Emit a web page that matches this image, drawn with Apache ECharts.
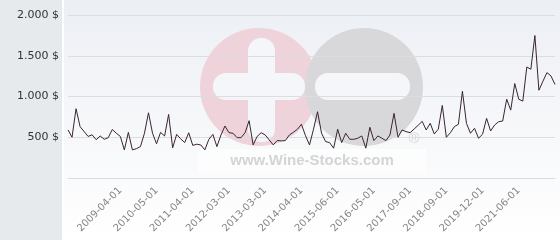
<!DOCTYPE html>
<html>
<head>
<meta charset="utf-8">
<script src="https://cdn.jsdelivr.net/npm/echarts@6/dist/echarts.min.js"></script>
<style>html,body{margin:0;padding:0;background:#fff}#c{width:560px;height:240px}</style>
</head>
<body>
<div id="c"></div>
<script>
const prices = [590,500,850,630,570,510,530,470,515,475,495,595,550,510,345,560,345,360,385,550,
800,550,420,560,515,780,370,535,480,435,555,400,415,405,345,475,535,385,528,638,
556,549,495,495,556,703,406,510,556,528,467,406,460,455,459,528,561,598,659,520,
406,598,813,549,447,434,366,598,434,549,476,475,488,516,366,622,459,516,488,459,
528,793,500,589,569,556,601,647,695,589,671,540,598,891,500,555,630,659,1065,671,
549,610,488,537,732,577,650,691,699,967,833,1159,967,943,1362,1334,1748,1077,1187,1293,
1252,1147];
const tickLabels = ['2009-04-01','2010-05-01','2011-04-01','2012-03-01','2013-03-01','2014-04-01',
'2015-06-01','2016-05-01','2017-09-01','2018-09-01','2019-12-01','2021-06-01'];
const firstLabelIndex = 13;
const labelStep = 9;
const yTicks = [0, 500, 1000, 1500, 2000];

const categories = prices.map((_, i) => {
  const k = (i - firstLabelIndex) / labelStep;
  return (k >= 0 && Number.isInteger(k) && k < tickLabels.length) ? tickLabels[k] : 'p' + i;
});

const chart = echarts.init(document.getElementById('c'), null, {renderer: 'canvas'});
const barFill = '#f5f6f9';
chart.setOption({
  animation: false,
  graphic: [
    {type: 'rect', z: -10, shape: {x: 0, y: 0, width: 560, height: 240},
      style: {fill: new echarts.graphic.LinearGradient(0, 0, 0, 1, [{offset: 0, color: '#eceff4'}, {offset: 1, color: '#ffffff'}])}},
    {type: 'rect', z: -9, shape: {x: 0, y: 0, width: 62, height: 240}, style: {fill: '#e6eaed'}},
    {type: 'rect', z: -9, shape: {x: 62, y: 0, width: 2, height: 240}, style: {fill: '#ffffff'}},
    {type: 'circle', z: -8, shape: {cx: 259, cy: 87, r: 59}, style: {fill: '#efd3da'}},
    {type: 'circle', z: -7, shape: {cx: 364, cy: 87, r: 59}, style: {fill: '#d8d8da'}},
    {type: 'rect', z: -6, shape: {x: 248, y: 38, width: 27, height: 104, r: 13}, style: {fill: barFill}},
    {type: 'rect', z: -6, shape: {x: 213, y: 73, width: 92, height: 27, r: 13}, style: {fill: barFill}},
    {type: 'rect', z: -6, shape: {x: 315, y: 73, width: 95, height: 27, r: 13}, style: {fill: barFill}},
    {type: 'rect', z: -5, shape: {x: 198, y: 149, width: 228, height: 24}, style: {fill: 'rgba(255,255,255,0.6)'}},
    {type: 'text', z: -4, x: 312, y: 161, style: {text: 'www.Wine-Stocks.com', font: 'bold 15px "Liberation Sans", Arial, sans-serif', fill: '#d4d4d6', align: 'center', verticalAlign: 'middle'}},
    {type: 'text', z: -4, x: 414, y: 139, style: {text: '®', font: '15px "Liberation Sans", Arial, sans-serif', fill: '#d4d4d6', align: 'center', verticalAlign: 'middle'}}
  ],
  grid: {left: 68, right: 5, top: 15, bottom: 62, containLabel: false},
  xAxis: {
    type: 'category',
    data: categories,
    boundaryGap: false,
    axisLine: {show: true, lineStyle: {color: '#dcdde1', width: 1}},
    axisTick: {show: false},
    splitLine: {show: false},
    axisLabel: {
      rotate: 45,
      margin: 11,
      color: '#858585',
      fontSize: 10,
      fontFamily: '"DejaVu Sans", sans-serif',
      interval: (i) => {
        const k = (i - firstLabelIndex) / labelStep;
        return k >= 0 && Number.isInteger(k) && k < tickLabels.length;
      },
      formatter: (v) => (tickLabels.indexOf(v) >= 0 ? v : '')
    }
  },
  yAxis: {
    type: 'value',
    min: yTicks[0],
    max: yTicks[yTicks.length - 1],
    interval: 500,
    axisLine: {show: false},
    axisTick: {show: false},
    splitLine: {show: true, lineStyle: {color: '#dcdde1', width: 1}},
    axisLabel: {
      margin: 9,
      color: '#333333',
      fontSize: 11,
      fontFamily: '"DejaVu Sans", sans-serif',
      formatter: (v) => v === 0 ? '' : String(v).replace(/\B(?=(\d{3})+(?!\d))/g, '.') + ' $'
    }
  },
  series: [{
    type: 'line',
    data: prices,
    symbol: 'none',
    z: 3,
    lineStyle: {color: '#3a2432', width: 1}
  }]
});
</script>
</body>
</html>
